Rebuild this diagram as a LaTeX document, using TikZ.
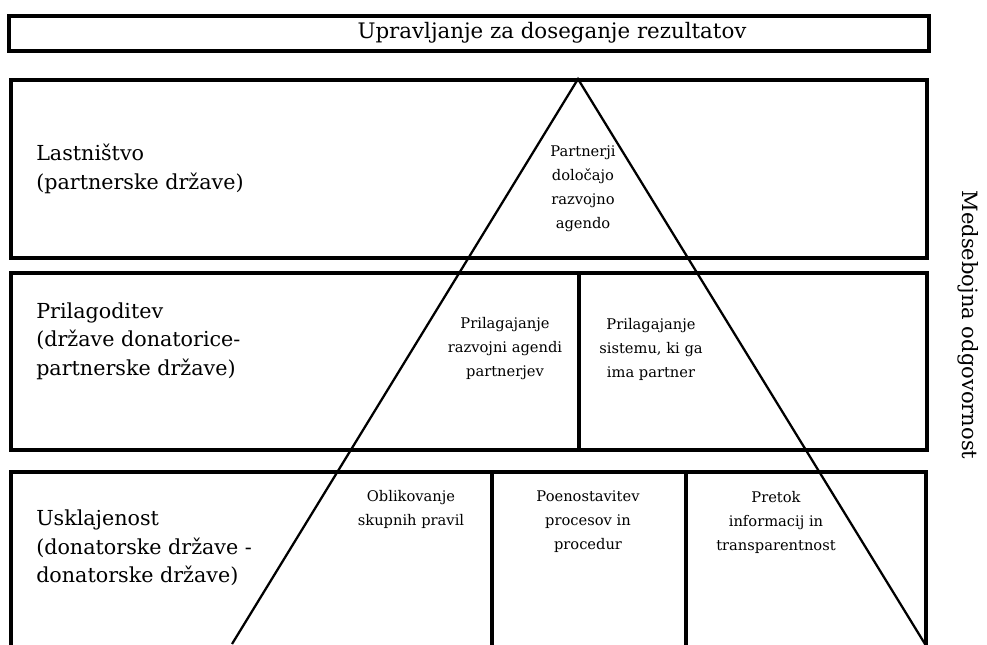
\documentclass[tikz,border=0pt]{standalone}
\usepackage{fontspec}
\setmainfont{DejaVu Serif}
\usepackage{tikz}

\begin{document}
\begin{tikzpicture}[
            x = 0.75pt, y = -0.75pt, % pixel units, y downwards
            frame/.style = {line width=2.4pt}, % box lines
            leg/.style = {line width=1.7pt}, % triangle lines
            level/.style = {font=\fontsize{15.5}{21.5}\selectfont, align=left, anchor=west, inner sep=0pt},
            inside/.style = {font=\fontsize{11}{18}\selectfont, align=center, inner sep=0pt}
        ]
\useasboundingbox[fill=white] (0,0) rectangle (987,644);

% boxes
\draw[frame] (9,16) rectangle (929,51);
\draw[frame] (11,80) rectangle (927,258);
\draw[frame] (11,273) rectangle (927,450);
\draw[frame] (11,646) -- (11,472) -- (926,472) -- (926,646);
\draw[frame] (579,273) -- (579,450);
\draw[frame] (492,472) -- (492,646);
\draw[frame] (686,472) -- (686,646);

% triangle
\coordinate (apex) at (578,79);
\coordinate (footL) at (232,644);
\coordinate (footR) at (925,644);
\draw[leg] (footL) -- (apex) -- (footR);

\node[font=\fontsize{16}{20}\selectfont, inner sep=0pt] (goal) at (552,33) {Upravljanje za doseganje rezultatov};

\node[level] (own) at (36,169) {Lastništvo\\(partnerske države)};
\node[level] (adapt) at (36,341) {Prilagoditev\\(države donatorice-\\partnerske države)};
\node[level] (harm) at (36,548) {Usklajenost\\(donatorske države -\\donatorske države)};

\node[inside] (agenda) at (583,189) {Partnerji\\določajo\\razvojno\\agendo};
\node[inside] (adaptL) at (505,349) {Prilagajanje\\razvojni agendi\\partnerjev};
\node[inside] (adaptR) at (651,349) {Prilagajanje\\sistemu, ki ga\\ima partner};
\node[inside] (rules) at (411,509) {Oblikovanje\\skupnih pravil};
\node[inside] (simple) at (588,522) {Poenostavitev\\procesov in\\procedur};
\node[inside] (info) at (776,522) {Pretok\\informacij in\\transparentnost};

\node[rotate=-90, font=\fontsize{15.8}{18}\selectfont, inner sep=0pt] (mutual) at (968,325) {Medsebojna odgovornost};

\end{tikzpicture}
\end{document}
